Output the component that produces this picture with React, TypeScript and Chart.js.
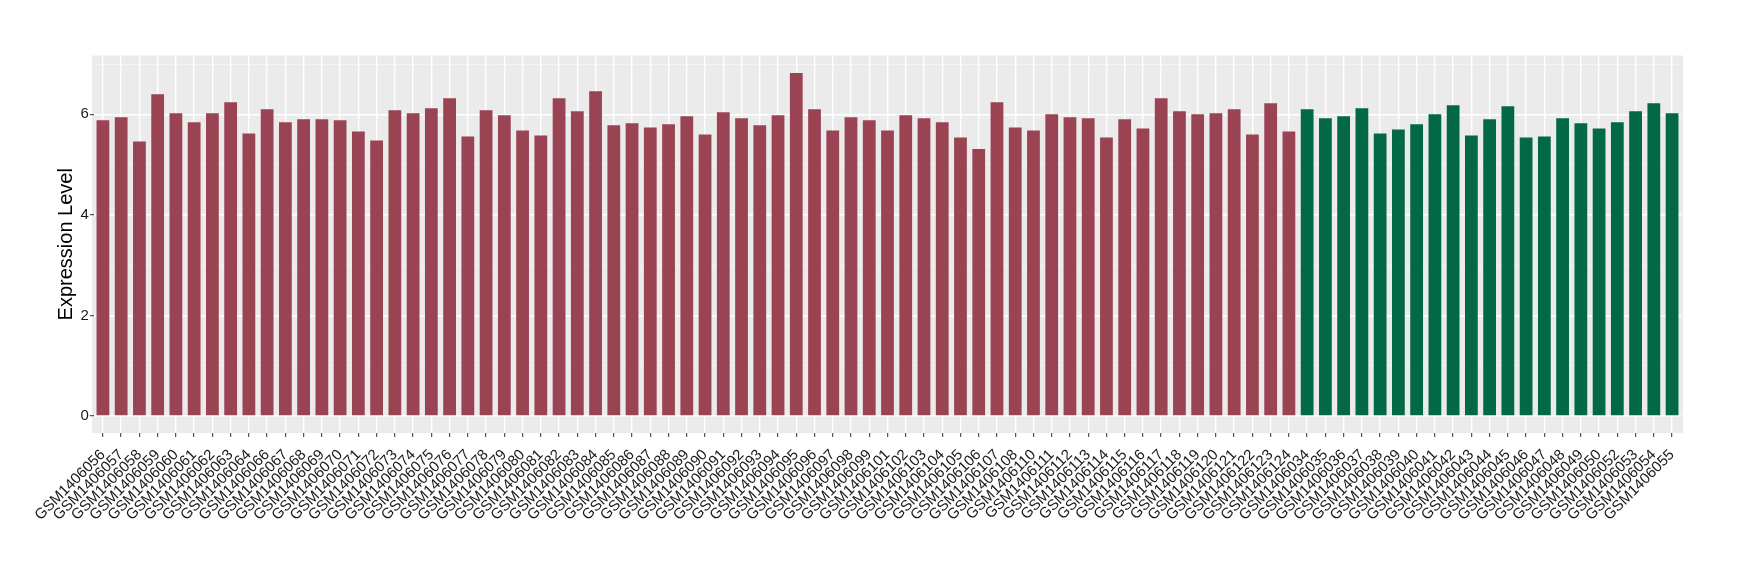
import React, { useEffect, useRef } from "react";
import { Chart, registerables } from "chart.js";

Chart.register(...registerables);

// Group 1 (dark red) samples and expression values
const groupASamples = [
  "GSM1406056", "GSM1406057", "GSM1406058", "GSM1406059", "GSM1406060", "GSM1406061", "GSM1406062", "GSM1406063", "GSM1406064",
  "GSM1406066", "GSM1406067", "GSM1406068", "GSM1406069", "GSM1406070", "GSM1406071", "GSM1406072", "GSM1406073", "GSM1406074",
  "GSM1406075", "GSM1406076", "GSM1406077", "GSM1406078", "GSM1406079", "GSM1406080", "GSM1406081", "GSM1406082", "GSM1406083",
  "GSM1406084", "GSM1406085", "GSM1406086", "GSM1406087", "GSM1406088", "GSM1406089", "GSM1406090", "GSM1406091", "GSM1406092",
  "GSM1406093", "GSM1406094", "GSM1406095", "GSM1406096", "GSM1406097", "GSM1406098", "GSM1406099", "GSM1406101", "GSM1406102",
  "GSM1406103", "GSM1406104", "GSM1406105", "GSM1406106", "GSM1406107", "GSM1406108", "GSM1406110", "GSM1406111", "GSM1406112",
  "GSM1406113", "GSM1406114", "GSM1406115", "GSM1406116", "GSM1406117", "GSM1406118", "GSM1406119", "GSM1406120", "GSM1406121",
  "GSM1406122", "GSM1406123", "GSM1406124",
];
const groupAValues = [
  5.88, 5.94, 5.46, 6.40, 6.02, 5.84, 6.02, 6.24, 5.62,
  6.10, 5.84, 5.90, 5.90, 5.88, 5.66, 5.48, 6.08, 6.02,
  6.12, 6.32, 5.56, 6.08, 5.98, 5.68, 5.58, 6.32, 6.06,
  6.46, 5.78, 5.82, 5.74, 5.80, 5.96, 5.60, 6.04, 5.92,
  5.78, 5.98, 6.82, 6.10, 5.68, 5.94, 5.88, 5.68, 5.98,
  5.92, 5.84, 5.54, 5.31, 6.24, 5.74, 5.68, 6.00, 5.94,
  5.92, 5.54, 5.90, 5.72, 6.32, 6.06, 6.00, 6.02, 6.10,
  5.60, 6.22, 5.66,
];

// Group 2 (dark green) samples and expression values
const groupBSamples = [
  "GSM1406034", "GSM1406035", "GSM1406036", "GSM1406037", "GSM1406038", "GSM1406039", "GSM1406040", "GSM1406041", "GSM1406042",
  "GSM1406043", "GSM1406044", "GSM1406045", "GSM1406046", "GSM1406047", "GSM1406048", "GSM1406049", "GSM1406050", "GSM1406052",
  "GSM1406053", "GSM1406054", "GSM1406055",
];
const groupBValues = [
  6.10, 5.92, 5.96, 6.12, 5.62, 5.70, 5.80, 6.00, 6.18,
  5.58, 5.90, 6.16, 5.54, 5.56, 5.92, 5.82, 5.72, 5.84,
  6.06, 6.22, 6.02,
];

const yTickValues = [0, 1, 2, 3, 4, 5, 6, 7];
const yMin = -0.34;
const yMax = 7.17;

const COLOR_A = "#9A4352";
const COLOR_B = "#026846";
const PANEL_BG = "#EBEBEB";
const FONT = "'Liberation Sans', Arial, Helvetica, sans-serif";

const panelBackground = {
  id: "panelBackground",
  beforeDraw(chart: any) {
    const { ctx, chartArea: a } = chart;
    const n = chart.data.labels.length;
    const ext = (a.width / n) * 0.1;
    ctx.save();
    ctx.fillStyle = PANEL_BG;
    ctx.fillRect(a.left - ext, a.top, a.width + 2 * ext, a.height);
    ctx.restore();
  },
};

export default function App() {
  const canvasRef = useRef<HTMLCanvasElement | null>(null);

  useEffect(() => {
    document.body.style.margin = "0";
    const canvas = canvasRef.current;
    if (!canvas) return;
    const labels = [...groupASamples, ...groupBSamples];
    const values = [...groupAValues, ...groupBValues];
    const colors = [
      ...groupASamples.map(() => COLOR_A),
      ...groupBSamples.map(() => COLOR_B),
    ];

    const chart = new Chart(canvas, {
      type: "bar",
      data: {
        labels,
        datasets: [
          {
            data: values,
            backgroundColor: colors,
            borderWidth: 0,
            barPercentage: 0.7,
            categoryPercentage: 1,
          },
        ],
      },
      plugins: [panelBackground],
      options: {
        responsive: false,
        animation: false,
        devicePixelRatio: 1,
        layout: { padding: { left: 44, right: 58.8, top: 55.5, bottom: 0 } },
        plugins: {
          legend: { display: false },
          tooltip: { enabled: false },
        },
        scales: {
          x: {
            type: "category",
            offset: true,
            border: { display: false },
            grid: {
              offset: false,
              color: "#FFFFFF",
              lineWidth: 1.4,
              tickColor: "#333333",
              tickLength: 4,
              tickWidth: 1,
            },
            ticks: {
              autoSkip: false,
              maxRotation: 45,
              minRotation: 45,
              padding: 9,
              color: "#1A1A1A",
              font: { family: FONT, size: 15 },
            },
            afterFit: (s: any) => {
              s.height = 580 - 433;
            },
          },
          y: {
            type: "linear",
            min: yMin,
            max: yMax,
            border: { display: false },
            afterBuildTicks: (s: any) => {
              s.ticks = yTickValues.map((v) => ({ value: v }));
            },
            grid: {
              color: (c: any) => (c.tick && c.tick.value % 2 === 0 ? "#FFFFFF" : "#F6F6F6"),
              lineWidth: (c: any) => (c.tick && c.tick.value % 2 === 0 ? 1.4 : 0.7),
              tickColor: (c: any) => (c.tick && c.tick.value % 2 === 0 ? "#333333" : "rgba(0,0,0,0)"),
              tickLength: 4,
              tickWidth: 1,
            },
            ticks: {
              padding: 1,
              color: "#1A1A1A",
              font: { family: FONT, size: 15 },
              callback: (v: any) => (Number(v) % 2 === 0 ? String(v) : ""),
            },
            title: {
              display: true,
              text: "Expression Level",
              color: "#000000",
              font: { family: FONT, size: 20 },
              padding: { top: 10, bottom: 0 },
            },
            afterFit: (s: any) => {
              s.width = 92 + 1.8 - 44;
            },
          },
        },
      },
    });

    return () => chart.destroy();
  }, []);

  return (
    <div style={{ width: 1740, height: 580 }}>
      <canvas ref={canvasRef} width={1740} height={580} />
    </div>
  );
}
